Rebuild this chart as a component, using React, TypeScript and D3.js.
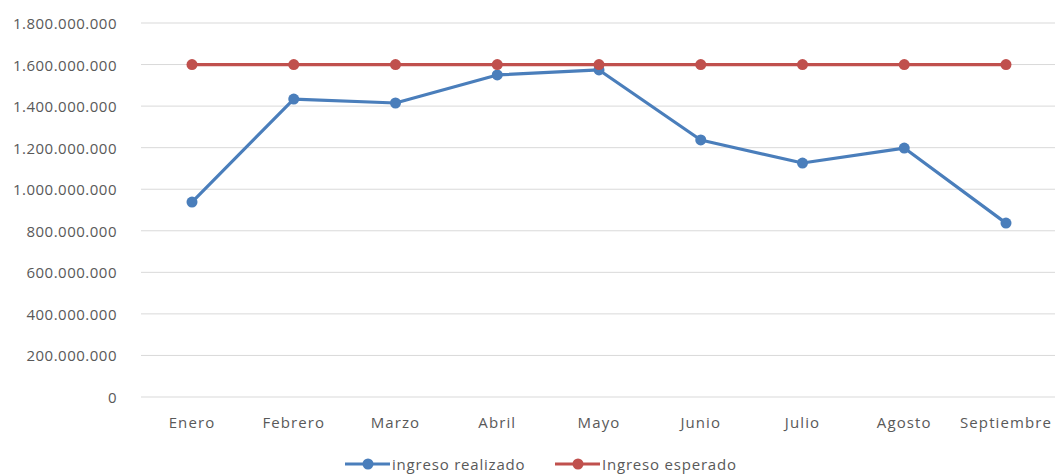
import React from "react";
import * as d3 from "d3";

const months = ["Enero", "Febrero", "Marzo", "Abril", "Mayo", "Junio", "Julio", "Agosto", "Septiembre"];
const ingresoRealizado = [938e6, 1434e6, 1415e6, 1550e6, 1574e6, 1237e6, 1126e6, 1198e6, 837e6];
const ingresoEsperado = [1600e6, 1600e6, 1600e6, 1600e6, 1600e6, 1600e6, 1600e6, 1600e6, 1600e6];
const yTicks = [0, 200e6, 400e6, 600e6, 800e6, 1000e6, 1200e6, 1400e6, 1600e6, 1800e6];

const W = 1055;
const H = 474;
const BLUE = "#4a7ebb";
const RED = "#c0504d";
const TEXT = "#595959";
const FONT = "'Open Sans', 'Liberation Sans', sans-serif";

const fmt = (v: number) => (v === 0 ? "0" : d3.format(",")(v).replace(/,/g, "."));

export default function App() {
  const x = d3.scalePoint<string>().domain(months).range([192, 1006]);
  const y = d3.scaleLinear().domain([0, 1800e6]).range([397, 23]);
  const line = d3
    .line<number>()
    .x((_, i) => x(months[i]) as number)
    .y((d) => y(d));

  const series = [
    { name: "ingreso realizado", values: ingresoRealizado, color: BLUE },
    { name: "Ingreso esperado", values: ingresoEsperado, color: RED },
  ];

  return (
    <svg
      width={W}
      height={H}
      style={{ position: "absolute", left: 0, top: 0, background: "#fff" }}
      fontFamily={FONT}
    >
      {yTicks.map((t) => (
        <g key={t}>
          <line x1={141} x2={W} y1={y(t)} y2={y(t)} stroke="#d9d9d9" strokeWidth={1} />
          <text
            x={117}
            y={y(t)}
            textAnchor="end"
            dominantBaseline="central"
            fontSize={15}
            letterSpacing={0.5}
            fill={TEXT}
          >
            {fmt(t)}
          </text>
        </g>
      ))}
      {months.map((m) => (
        <text
          key={m}
          x={x(m)}
          y={422}
          textAnchor="middle"
          dominantBaseline="central"
          fontSize={15}
          letterSpacing={1.1}
          fill={TEXT}
        >
          {m}
        </text>
      ))}
      {series.map((s) => (
        <g key={s.name}>
          <path d={line(s.values) || ""} fill="none" stroke={s.color} strokeWidth={3.2} strokeLinejoin="round" />
          {s.values.map((v, i) => (
            <circle key={i} cx={x(months[i])} cy={y(v)} r={5.5} fill={s.color} />
          ))}
        </g>
      ))}
      {series.map((s, i) => {
        const lx = i === 0 ? 345 : 555;
        return (
          <g key={s.name} transform={`translate(${lx},464)`}>
            <line x1={0} x2={45} y1={0} y2={0} stroke={s.color} strokeWidth={3.2} />
            <circle cx={23} cy={0} r={5.5} fill={s.color} />
            <text x={47} y={0} dominantBaseline="central" fontSize={15} letterSpacing={0.8} fill={TEXT}>
              {s.name}
            </text>
          </g>
        );
      })}
    </svg>
  );
}
